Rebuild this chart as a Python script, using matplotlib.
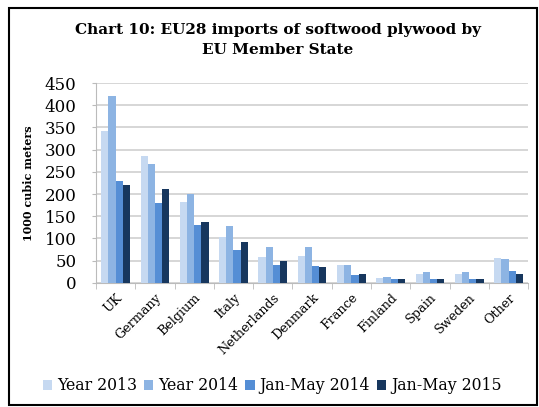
import numpy as np
import matplotlib.pyplot as plt
from matplotlib.patches import Rectangle

countries = ['UK', 'Germany', 'Belgium', 'Italy', 'Netherlands', 'Denmark',
             'France', 'Finland', 'Spain', 'Sweden', 'Other']
year_2013 = [342, 285, 183, 104, 59, 61, 40, 12, 19, 20, 55]
year_2014 = [420, 268, 199, 127, 80, 80, 40, 14, 24, 24, 53]
jan_may_2014 = [230, 180, 130, 75, 40, 39, 18, 8, 9, 9, 27]
jan_may_2015 = [221, 212, 137, 92, 49, 36, 20, 9, 9, 8, 21]

series = [year_2013, year_2014, jan_may_2014, jan_may_2015]
labels = ['Year 2013', 'Year 2014', 'Jan-May 2014', 'Jan-May 2015']
colors = ['#c6d9f1', '#8db4e3', '#558ed5', '#17375e']

plt.rcParams['font.family'] = ['DejaVu Serif']

fig = plt.figure(figsize=(5.39, 4.07), dpi=100)
ax = fig.add_axes([0.178, 0.305, 0.802, 0.491])

x = np.arange(len(countries))
w = 0.183
for i, s in enumerate(series):
    ax.bar(x + (i - 1.5) * w, s, w, color=colors[i], label=labels[i], zorder=3)

ax.set_xlim(-0.5, len(countries) - 0.5)
ax.set_ylim(0, 450)
ax.set_yticks(range(0, 451, 50))
ax.yaxis.grid(True, color='#cfcfcf', linewidth=1.2, zorder=0)
ax.tick_params(axis='y', labelsize=12, length=3, color='#bbbbbb', pad=11)
ax.set_xticks(x)
ax.set_xticklabels(countries, rotation=45, ha='right', rotation_mode='anchor', fontsize=9.2)
ax.set_xticks(np.arange(-0.5, len(countries)), minor=True)
ax.tick_params(axis='x', which='major', length=0, pad=6)
ax.tick_params(axis='x', which='minor', length=4, color='#bbbbbb')
for sp in ['top', 'right']:
    ax.spines[sp].set_visible(False)
for sp in ['left', 'bottom']:
    ax.spines[sp].set_color('#bbbbbb')
ax.set_ylabel('1000 cubic meters', fontsize=8, fontweight='bold', labelpad=8)

fig.suptitle('Chart 10: EU28 imports of softwood plywood by\nEU Member State',
             x=0.515, y=0.943, fontsize=11, fontweight='bold', linespacing=1.5)

fig.legend(loc='center', bbox_to_anchor=(0.505, 0.052), ncol=4, frameon=False,
           fontsize=11.3, handlelength=0.6, handleheight=0.6, handletextpad=0.3,
           columnspacing=0.45)

fig.patches.append(Rectangle((0.017, 0.005), 0.979, 0.975, transform=fig.transFigure,
                             fill=False, edgecolor='black', linewidth=1.5))

fig.savefig('out.png', dpi=100)
